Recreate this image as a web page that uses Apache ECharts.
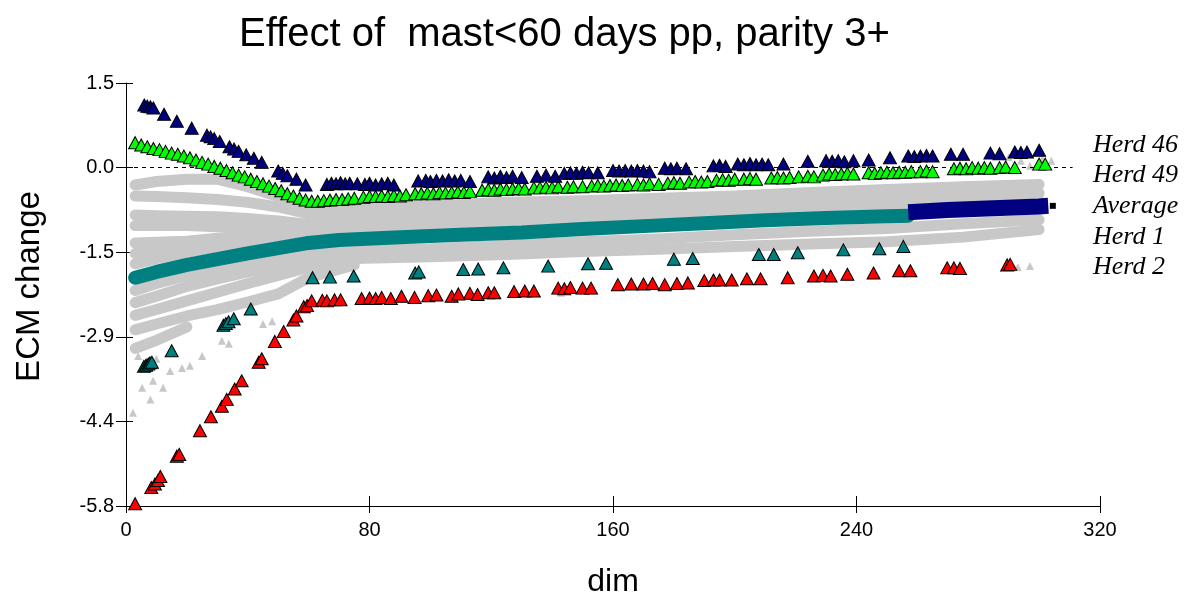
<!DOCTYPE html>
<html><head><meta charset="utf-8">
<script src="https://cdn.jsdelivr.net/npm/echarts/dist/echarts.min.js"></script>
<style>html,body{margin:0;padding:0;background:#fff}#c{width:1192px;height:595px}</style>
</head><body><div id="c"></div>
<script>
// ---- data ----
const titleText = 'Effect of  mast<60 days pp, parity 3+';
const legendLabels = ['Herd 46', 'Herd 49', 'Average', 'Herd 1', 'Herd 2'];

// Herd 46 (navy triangles): [dim, ECM change]
const herd46 = [[6,1.08],[7,1.06],[8,1.05],[9,1.03],[12.5,0.92],[16.7,0.8],[21.6,0.68],[26.6,0.56],[27.8,0.53],[29,0.5],[30.8,0.45],[34,0.36],[35.5,0.32],[37,0.28],[39.5,0.22],[42,0.16],[44.6,0.09],[50,-0.06],[51.5,-0.1],[53,-0.14],[56,-0.2],[59,-0.3],
[66,-0.29],[67.5,-0.27],[69,-0.28],[70.5,-0.26],[72,-0.28],[73.5,-0.27],[76,-0.28],[78.5,-0.29],[80,-0.27],[82,-0.3],[84,-0.28],[86,-0.27],[88,-0.3],
[96,-0.23],[98.5,-0.22],[100,-0.24],[102,-0.22],[104,-0.23],[106,-0.21],[108,-0.23],[110,-0.22],[113,-0.24],
[119,-0.16],[121,-0.18],[123,-0.15],[125,-0.17],[127,-0.15],[130,-0.17],[135,-0.15],[138,-0.13],[141,-0.15],
[144,-0.1],[146,-0.09],[148,-0.1],[150,-0.08],[152,-0.09],[155,-0.09],[160,-0.05],[162,-0.06],[164,-0.05],[166,-0.06],[168,-0.05],[170,-0.06],[172,-0.07],
[177,-0.01],[179,-0.02],[181,-0.01],[184,-0.02],[193,0.03],[195,0.04],[197,0.02],[201,0.06],[203,0.05],[205,0.07],[207,0.05],[209,0.06],[211,0.05],[216,0.06],
[224,0.11],[230,0.12],[232,0.11],[234,0.12],[236,0.1],[239,0.12],[244,0.13],[251,0.17],[257,0.2],[259,0.19],[261,0.2],[263,0.21],[265,0.2],[271,0.23],[275,0.23],[284,0.25],[287,0.24],[292,0.27],[294,0.26],[296,0.27],[300,0.3]];

// Herd 49 (green triangles)
const herd49 = [[3,0.43],[5,0.39],[7,0.36],[9,0.33],[11,0.31],[13,0.28],[15,0.25],[17,0.23],[19,0.2],[21,0.17],[23,0.13],[25,0.09],[27,0.06],[29,0.02],[31,-0.01],[33,-0.05],[35,-0.09],[37,-0.13],[39,-0.16],[41,-0.2],[43,-0.24],[45,-0.28],[47,-0.32],[49,-0.36],[51,-0.4],[53,-0.45],[55,-0.49],[57,-0.53],[59,-0.56],[61,-0.58],[63,-0.58],
[65,-0.57],[67,-0.56],[69,-0.55],[71,-0.55],[73,-0.54],[75,-0.53],[78,-0.51],[80,-0.5],[82,-0.5],[84,-0.49],[86,-0.5],[88,-0.48],[90,-0.49],[92,-0.47],[95,-0.45],[97,-0.45],[99,-0.44],[101,-0.45],[103,-0.43],[105,-0.44],[107,-0.43],[109,-0.42],[111,-0.43],[113,-0.41],
[117,-0.39],[119,-0.38],[121,-0.39],[123,-0.37],[125,-0.38],[127,-0.37],[129,-0.36],[131,-0.37],[134,-0.35],[136,-0.35],[138,-0.34],[140,-0.35],[142,-0.33],[145,-0.34],[147,-0.33],[150,-0.33],[153,-0.32],[155,-0.31],[157,-0.32],[159,-0.31],[161,-0.3],[163,-0.31],[165,-0.3],[168,-0.29],[170,-0.3],[172,-0.28],[175,-0.29],
[178,-0.27],[180,-0.26],[182,-0.27],[185,-0.25],[187,-0.24],[189,-0.25],[191,-0.24],[194,-0.22],[196,-0.21],[198,-0.22],[200,-0.2],[203,-0.2],[205,-0.19],[207,-0.2],[212,-0.18],[214,-0.17],[216,-0.18],[218,-0.17],[221,-0.16],[224,-0.15],[226,-0.16],
[229,-0.13],[231,-0.11],[233,-0.12],[235,-0.11],[237,-0.1],[239,-0.11],[244,-0.09],[246,-0.1],[248,-0.09],[250,-0.08],[252,-0.09],[254,-0.08],[256,-0.08],[258,-0.07],[261,-0.07],[263,-0.06],[265,-0.07],
[272,-0.02],[274,-0.01],[276,-0.02],[278,0.0],[280,-0.01],[282,0.0],[284,-0.01],[287,0.0],[289,0.01],[292,0.0],[300,0.06],[302,0.06]];

// Herd 1 (teal triangles)
const herd1 = [[5.9,-3.43],[6.6,-3.41],[7.3,-3.39],[7.9,-3.37],[8.5,-3.36],[15,-3.16],[32,-2.72],[32.8,-2.69],[33.7,-2.66],[35.4,-2.61],[41,-2.44],
[61.3,-1.9],[67,-1.89],[74.8,-1.87],[95,-1.82],[96.2,-1.8],[110.8,-1.76],[115.7,-1.75],[124,-1.73],[138.7,-1.7],[151.8,-1.66],[157.7,-1.65],[180,-1.58],[186.2,-1.57],[207.9,-1.5],[212.8,-1.5],[220.7,-1.47],[235.7,-1.42],[247.5,-1.4],[255.4,-1.36]];

// Herd 2 (red triangles)
const herd2 = [[3,-5.8],[8.3,-5.52],[9.5,-5.46],[10.5,-5.4],[11.3,-5.33],[16.7,-4.98],[17.5,-4.95],[24.3,-4.54],[27.9,-4.3],[31.5,-4.12],[33.1,-4.0],[35.7,-3.82],[38,-3.68],[43.6,-3.36],[44.6,-3.3],[48.9,-3.0],[51.8,-2.83],[55,-2.63],[56,-2.56],[58.4,-2.4],[59.5,-2.38],[61,-2.3],
[64.5,-2.29],[66,-2.3],[68.5,-2.28],[70.5,-2.28],[77.4,-2.26],[80,-2.25],[82,-2.26],[84,-2.24],[87,-2.26],[90.5,-2.22],[94.8,-2.24],[99.3,-2.21],[102,-2.2],[107,-2.22],[109.2,-2.18],[113,-2.17],[115.5,-2.19],[119,-2.16],[121,-2.16],[127.5,-2.14],[131,-2.13],[134,-2.13],
[142,-2.08],[144,-2.09],[146,-2.07],[150,-2.08],[152.8,-2.08],[161.6,-2.02],[166,-2.01],[170,-2.01],[173,-2.0],[177,-2.02],[181,-2.0],[184.6,-1.99],[190,-1.95],[193,-1.94],[195,-1.94],[199,-1.94],[204,-1.92],[208.5,-1.92],[217.4,-1.9],
[226,-1.87],[229,-1.86],[231.5,-1.87],[237,-1.84],[245.6,-1.82],[254,-1.78],[257.7,-1.78],[269.8,-1.73],[272,-1.73],[274,-1.74],[289.5,-1.68],[290.5,-1.67]];

// Average (thick band): teal part then navy part
const avgTealDims = [3,10,20,30,40,50,60,70,90,110,130,150,170,190,210,230,250,257];
const avgTeal     = [-1.9,-1.8,-1.68,-1.58,-1.48,-1.39,-1.3,-1.25,-1.2,-1.16,-1.12,-1.06,-1.01,-0.96,-0.91,-0.87,-0.84,-0.83];
const avgNavyDims = [257,270,285,300,303];
const avgNavy     = [-0.77,-0.73,-0.7,-0.67,-0.66];
const avgEnd      = [[304.5,-0.66]];

// Other herds (grey cloud), values at these dims (null = herd not drawn there)
const grayDims = [3,10,20,30,40,50,60,75,100,125,150,175,200,225,250,275,300];
const gray1  = [-0.3,-0.24,-0.2,-0.2,-0.33,-0.5,-0.66,-0.72,-0.65,-0.6,-0.57,-0.53,-0.49,-0.43,-0.38,-0.33,-0.29];
const gray2  = [-0.49,-0.5,-0.52,-0.55,-0.6,-0.68,-0.8,-0.87,-0.82,-0.77,-0.73,-0.69,-0.64,-0.59,-0.54,-0.49,-0.44];
const gray3  = [-0.82,-0.83,-0.84,-0.85,-0.88,-0.92,-0.98,-1.02,-0.99,-0.94,-0.89,-0.84,-0.79,-0.74,-0.69,-0.63,-0.57];
const gray4  = [-1.0,-1.0,-1.0,-1.02,-1.04,-1.07,-1.1,-1.1,-1.06,-1.0,-0.95,-0.9,-0.85,-0.8,-0.76,-0.7,-0.63];
const gray5  = [-1.3,-1.29,-1.27,-1.22,-1.18,-1.15,-1.14,-1.15,null,null,null,null,null,null,null,null,null];
const gray6  = [-1.48,-1.44,-1.38,-1.32,-1.26,-1.2,-1.16,null,null,null,null,null,null,null,null,null,null];
const gray7  = [-1.66,-1.57,-1.46,-1.37,-1.28,-1.2,-1.14,null,null,null,null,null,null,null,null,null,null];
const gray8  = [-2.12,-2.0,-1.86,-1.74,-1.63,-1.53,-1.46,-1.42,-1.4,-1.34,-1.28,-1.23,-1.16,-1.1,-1.05,-0.97,-0.9];
const gray9  = [-2.33,-2.22,-2.05,-1.92,-1.8,-1.7,-1.62,-1.57,-1.54,-1.5,-1.45,-1.41,-1.36,-1.32,-1.28,-1.2,-1.07];
const gray10 = [-2.55,-2.45,-2.3,-2.15,-2.0,-1.86,-1.72,-1.62,null,null,null,null,null,null,null,null,null];
const gray11 = [-2.8,-2.7,-2.56,-2.45,-2.32,-2.18,-1.9,-1.68,null,null,null,null,null,null,null,null,null];
const gray12 = [-3.12,-2.98,-2.75,null,null,null,null,null,null,null,null,null,null,null,null,null,null];
const grayHerds = [gray1,gray2,gray3,gray4,gray5,gray6,gray7,gray8,gray9,gray10,gray11,gray12];
// scattered grey points
const grayPoints = [[2.3,-4.23],[8,-4.0],[5.3,-3.8],[8.9,-3.68],[12.2,-3.8],[14.5,-3.51],[18.4,-3.46],[21,-3.42],[25,-3.25],[31.5,-2.99],[33.8,-3.04],[45,-2.7],[48,-2.65],[4,-3.25],[10,-3.3],
[143,-2.16],[290,0.18],[294,0.12],[297,0.03],[301,0.15],[304,0.12],[293,-1.72],[297,-1.7]];

// ---- chart ----
const GRAY = '#c8c8c8';
const FONT = "'Liberation Sans', Arial, sans-serif";
const chart = echarts.init(document.getElementById('c'));

const series = [];
grayHerds.forEach(function (arr, k) {
  const d = [];
  grayDims.forEach(function (x, i) { if (arr[i] !== null) d.push([x, arr[i]]); });
  series.push({ type: 'line', name: 'g' + k, data: d, showSymbol: false, smooth: false,
    lineStyle: { color: GRAY, width: 11, cap: 'round', join: 'round', opacity: 1 }, z: 2, silent: true, animation: false });
});
series.push({ type: 'scatter', data: grayPoints, symbol: 'triangle', symbolSize: 8,
  itemStyle: { color: GRAY, opacity: 1 }, z: 2, animation: false });
// zero dashed line
series.push({ type: 'line', data: [], z: 3, animation: false,
  markLine: { symbol: 'none', silent: true, label: { show: false },
    lineStyle: { color: '#000', width: 1, type: [4, 4] },
    data: [[{ coord: [0, 0] }, { coord: [311, 0] }]] } });
series.push({ type: 'line', data: avgTealDims.map(function (x, i) { return [x, avgTeal[i]]; }),
  showSymbol: false, lineStyle: { color: '#008080', width: 14, cap: 'round', opacity: 1 }, z: 4, animation: false });
series.push({ type: 'line', data: avgNavyDims.map(function (x, i) { return [x, avgNavy[i]]; }),
  showSymbol: false, lineStyle: { color: '#000080', width: 16, cap: 'butt', opacity: 1 }, z: 4, animation: false });
series.push({ type: 'scatter', data: avgEnd, symbol: 'rect', symbolSize: 6, itemStyle: { color: '#000', opacity: 1 }, z: 4, animation: false });

function tri(data, color) {
  return { type: 'scatter', data: data, symbol: 'triangle', symbolSize: [13, 12],
    itemStyle: { color: color, borderColor: '#000', borderWidth: 1, opacity: 1 }, z: 5, animation: false };
}
series.push(tri(herd2, '#ff0000'));
series.push(tri(herd1, '#008080'));
series.push(tri(herd49, '#00ff00'));
series.push(tri(herd46, '#000080'));

const legendY = [147, 177, 208, 239, 269];
const graphics = legendLabels.map(function (t, i) {
  return { type: 'text', left: 1093, top: legendY[i] - 15,
    style: { text: t, fill: '#000', font: "italic 26px 'Liberation Serif', 'Times New Roman', serif" } };
});

function fmtY(v) { return Math.abs(v) < 1e-9 ? '0.0' : v.toFixed(1); }

chart.setOption({
  animation: false,
  backgroundColor: '#fff',
  title: { text: titleText, left: 234, top: 10,
    textStyle: { fontFamily: FONT, fontSize: 40, fontWeight: 'normal', color: '#000' } },
  grid: { left: 126, right: 92, top: 83, bottom: 89, containLabel: false, outerBoundsMode: 'none' },
  xAxis: [{
    type: 'value', min: 0, max: 320, interval: 80, position: 'bottom',
    name: 'dim', nameLocation: 'middle', nameGap: 60,
    nameTextStyle: { fontFamily: FONT, fontSize: 32, color: '#000' },
    axisLine: { onZero: false, lineStyle: { color: '#000', width: 1 } },
    axisTick: { show: true, length: 7, lineStyle: { color: '#000' } },
    axisLabel: { fontFamily: FONT, fontSize: 20, color: '#000', margin: 14 },
    splitLine: { show: false }
  }, {
    type: 'value', min: 0, max: 320, interval: 80, position: 'bottom',
    axisLine: { show: false, onZero: false }, axisLabel: { show: false }, splitLine: { show: false },
    axisTick: { show: true, inside: true, length: 10, lineStyle: { color: '#000' } }
  }],
  yAxis: [{
    type: 'value', min: -5.84, max: 1.46, interval: 1.46, position: 'left',
    name: 'ECM change', nameLocation: 'middle', nameGap: 80, nameRotate: 90,
    nameTextStyle: { fontFamily: FONT, fontSize: 33, color: '#000', padding: [0, 0, 0, 16] },
    axisLine: { show: true, onZero: false, lineStyle: { color: '#000', width: 1 } },
    axisTick: { show: true, length: 10, lineStyle: { color: '#000' } },
    axisLabel: { fontFamily: FONT, fontSize: 20, color: '#000', margin: 12, formatter: fmtY },
    splitLine: { show: false }
  }, {
    type: 'value', min: -5.84, max: 1.46, interval: 1.46, position: 'left',
    axisLine: { show: false, onZero: false }, axisLabel: { show: false }, splitLine: { show: false },
    axisTick: { show: true, inside: true, length: 7, lineStyle: { color: '#000' } }
  }],
  graphic: graphics,
  series: series
});
</script></body></html>
